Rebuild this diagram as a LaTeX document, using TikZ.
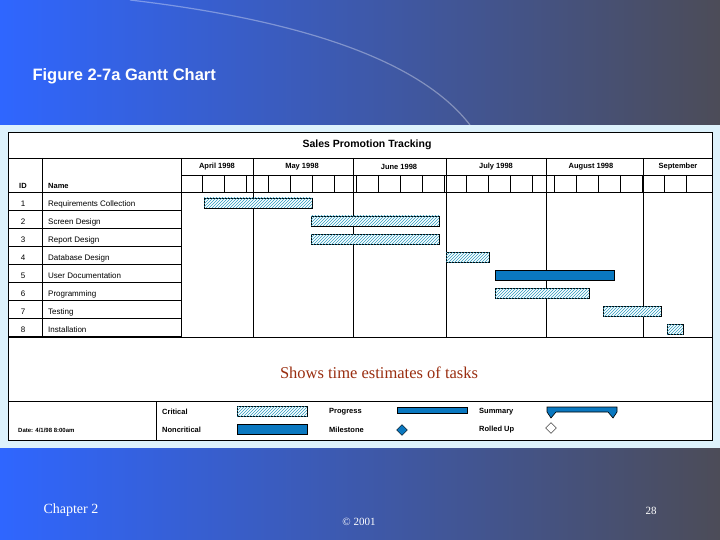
\documentclass[tikz,border=0pt]{standalone}
\usepackage{fontspec}
\setmainfont{Liberation Serif}
\setsansfont{Liberation Sans}
\usetikzlibrary{patterns,shapes.geometric,calc}
\definecolor{slideblue}{HTML}{2F66FF}
\definecolor{slidegrey}{HTML}{4C4C58}
\definecolor{panel}{HTML}{DDF2FC}
\definecolor{barblue}{HTML}{0A78C0}
\definecolor{hatch}{HTML}{2A9CC0}
\definecolor{textred}{HTML}{9A2E10}
\tikzset{
  grid/.style={line width=0.8pt},
  label/.style={font=\sffamily\fontsize{8}{9}\selectfont, anchor=west, inner sep=0pt},
  head/.style={font=\sffamily\bfseries\fontsize{7.5}{9}\selectfont, inner sep=0pt},
  critbar/.style={draw, line width=0.6pt, fill=white, postaction={pattern=north east lines, pattern color=hatch}},
  normbar/.style={draw, line width=0.6pt, fill=barblue},
}
\begin{document}
\begin{tikzpicture}[x=1pt,y=-1pt]
		\useasboundingbox (0,0) rectangle (720,540);
		\shade[left color=slideblue, right color=slidegrey] (0,0) rectangle (720,540);
		\draw[white, opacity=0.35, line width=1.2pt] (130,0) .. controls (300,20) and (420,60) .. (470,125);
		\fill[panel] (0,125) rectangle (720,448);
		\fill[white] (8,132) rectangle (712,440);

		% slide texts
		\node[font=\sffamily\bfseries\fontsize{16.5}{19}\selectfont, text=white, anchor=west] (title) at (29,76) {Figure 2-7a Gantt Chart};
		\node[font=\fontsize{14}{16}\selectfont, text=white, anchor=west] (chapter) at (40,510) {Chapter 2};
		\node[font=\fontsize{11}{13}\selectfont, text=white] (copy) at (359,522) {\textcopyright{} 2001};
		\node[font=\fontsize{11}{13}\selectfont, text=white] (page) at (651,511) {28};

		% chart frame
		\draw[grid] (8,132) rectangle (712,440);
		\node[head, font=\sffamily\bfseries\fontsize{10.5}{12}\selectfont] (chart) at (367,145) {Sales Promotion Tracking};
		\draw[grid] (8,158) -- (712,158);
		\draw[grid] (42,158) -- (42,337);
		\draw[grid] (181,158) -- (181,337);
		\draw[line width=0.5pt] (181,175) -- (712,175);
		\draw[grid] (8,192) -- (712,192);
		\foreach \x in {202,224,...,700} \draw[line width=0.5pt] (\x,175) -- (\x,192);
		\foreach \x in {253,353,446,546,643} \draw[grid] (\x,158) -- (\x,337);
		\node[head] (april) at (217,167) {April 1998};
		\node[head] (may) at (302,167) {May 1998};
		\node[head] (june) at (399,167) {June 1998};
		\node[head] (july) at (496,167) {July 1998};
		\node[head] (aug) at (591,167) {August 1998};
		\node[head] (sept) at (678,167) {September};
		\node[head] (id) at (23,186) {ID};
		\node[head, anchor=west] (name) at (48,186) {Name};

		% task rows
		\foreach \i/\t in {1/Requirements Collection, 2/Screen Design, 3/Report Design, 4/Database Design,
				5/User Documentation, 6/Programming, 7/Testing, 8/Installation}{
			\node[label, anchor=center] (id\i) at (23,186+18*\i) {\i};
			\node[label] (task\i) at (48,186+18*\i) {\t};
			\draw[line width=0.6pt] (8,192+18*\i) -- (181,192+18*\i);
		}
		\draw[grid] (8,337) -- (712,337);
		\draw[critbar] (204,198) rectangle (312,208);
		\draw[critbar] (311,216) rectangle (439,226);
		\draw[critbar] (311,234) rectangle (439,244);
		\draw[critbar] (446,252) rectangle (489,262);
		\draw[normbar] (495,270) rectangle (614,280);
		\draw[critbar] (495,288) rectangle (589,298);
		\draw[critbar] (603,306) rectangle (661,316);
		\draw[critbar] (667,324) rectangle (683,334);

		\node[font=\fontsize{16.5}{19}\selectfont, text=textred] (note) at (379,373) {Shows time estimates of tasks};

		% legend
		\draw[grid] (8,401) -- (712,401);
		\draw[grid] (156,401) -- (156,440);
		\node[head, anchor=west, font=\sffamily\bfseries\fontsize{6}{7}\selectfont] (date) at (18,430) {Date: 4/1/98 8:00am};
		\node[head, anchor=west] (crit) at (162,412) {Critical};
		\node[head, anchor=west] (noncrit) at (162,430) {Noncritical};
		\node[head, anchor=west] (prog) at (329,412) {Progress};
		\node[head, anchor=west] (mile) at (329,430) {Milestone};
		\node[head, anchor=west] (summ) at (479,412) {Summary};
		\node[head, anchor=west] (roll) at (479,430) {Rolled Up};
		\draw[critbar] (237,406) rectangle (307,416);
		\draw[normbar] (237,424) rectangle (307,434);
		\draw[normbar] (397,407) rectangle (467,413);
		\draw[normbar] (547,407) -- (617,407) -- (617,412) -- (613,418) -- (608,412) -- (556,412) -- (551,418) -- (547,412) -- cycle;
		\node[diamond, draw, fill=barblue, inner sep=0pt, minimum size=11pt] (milestone) at (402,430) {};
		\node[diamond, draw, fill=white, inner sep=0pt, minimum size=11pt] (rolled) at (551,428) {};
\end{tikzpicture}
\end{document}
